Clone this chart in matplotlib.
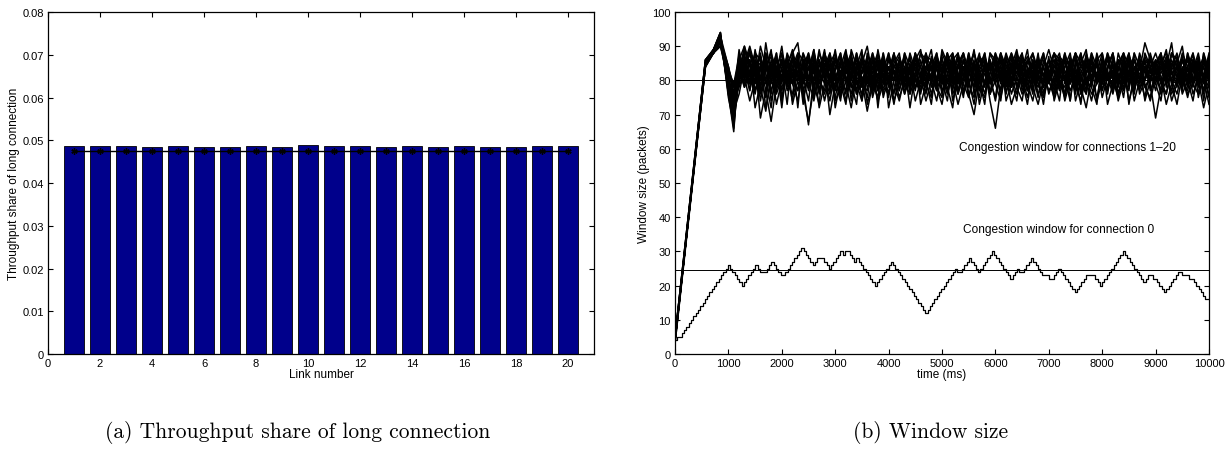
"""Throughput share and congestion window figure."""

import matplotlib

matplotlib.use("Agg")

import numpy as np
from matplotlib import pyplot as plt
from matplotlib import ticker

# ---- panel (a): throughput share per link ----
LINK_NUMBERS = list(range(1, 21))
THROUGHPUT_SHARE = [
    0.0487, 0.0486, 0.0486, 0.0485, 0.0486, 0.0485, 0.0484, 0.0487, 0.0485, 0.0488,
    0.0487, 0.0486, 0.0484, 0.0487, 0.0484, 0.0486, 0.0485, 0.0485, 0.0486, 0.0486,
]
FAIR_SHARE = [0.0476] * 20

# ---- panel (b): congestion windows ----
RAMP_TIMES_MS = [0, 570, 720, 850, 1000, 1100]
STEADY_TIMES_MS = list(range(1200, 10001, 100))

CONN_RAMPS = [
    [4, 85, 88, 93, 78, 70],
    [4, 85, 89, 94, 76, 65],
    [4, 85, 88, 92, 80, 72],
    [4, 85, 88, 91, 84, 76],
    [4, 85, 89, 93, 77, 68],
    [4, 85, 88, 92, 79, 74],
    [4, 85, 88, 90, 82, 78],
    [4, 85, 89, 94, 75, 67],
    [4, 85, 88, 92, 81, 73],
    [4, 85, 88, 91, 83, 79],
    [5, 84, 88, 92, 80, 71],
    [3, 86, 89, 93, 84, 75],
    [4, 84, 88, 91, 78, 69],
    [5, 86, 89, 94, 77, 66],
    [4, 85, 88, 92, 82, 77],
    [3, 84, 88, 90, 80, 74],
    [5, 86, 89, 93, 79, 70],
    [4, 85, 88, 92, 84, 78],
    [4, 84, 89, 93, 76, 68],
    [5, 86, 88, 91, 81, 75],
]

CONN_1 = [84, 88, 79, 86, 74, 83, 89, 76, 81, 87,
          73, 80, 86, 78, 84, 72, 79, 88, 82, 75,
          85, 80, 87, 74, 82, 86, 77, 83, 88, 79,
          74, 81, 87, 80, 76, 84, 89, 78, 73, 82,
          86, 79, 84, 75, 81, 87, 83, 76, 80, 88,
          74, 79, 85, 82, 77, 86, 81, 73, 84, 88,
          80, 75, 83, 87, 78, 72, 81, 86, 79, 84,
          88, 76, 82, 85, 74, 80, 87, 83, 77, 84,
          89, 79, 73, 82, 86, 78, 84, 80, 76]
CONN_2 = [86, 90, 82, 76, 85, 80, 72, 84, 88, 78,
          83, 87, 75, 81, 89, 77, 84, 70, 79, 86,
          81, 76, 84, 89, 73, 80, 86, 82, 75, 85,
          88, 78, 83, 74, 80, 87, 79, 84, 76, 82,
          77, 85, 88, 80, 73, 83, 86, 79, 84, 75,
          82, 87, 78, 74, 84, 80, 88, 76, 83, 79,
          85, 81, 74, 86, 82, 77, 88, 84, 75, 81,
          79, 85, 88, 73, 82, 86, 78, 75, 84, 88,
          81, 77, 85, 90, 80, 74, 83, 87, 79]
CONN_3 = [88, 83, 77, 89, 81, 75, 86, 82, 90, 79,
          76, 85, 81, 88, 74, 83, 79, 87, 72, 80,
          87, 83, 77, 85, 90, 81, 74, 79, 86, 83,
          77, 84, 72, 82, 88, 83, 76, 81, 87, 79,
          83, 76, 81, 87, 84, 78, 75, 82, 88, 80,
          86, 81, 76, 83, 89, 78, 73, 80, 86, 82,
          77, 84, 88, 79, 74, 82, 87, 80, 86, 78,
          83, 74, 80, 87, 84, 78, 81, 88, 82, 76,
          80, 86, 82, 77, 88, 83, 79, 85, 82]
CONN_4 = [80, 85, 90, 84, 78, 71, 82, 87, 80, 84,
          89, 82, 76, 68, 78, 85, 81, 76, 84, 88,
          79, 72, 81, 86, 79, 84, 77, 88, 81, 73,
          82, 87, 79, 85, 81, 74, 80, 86, 82, 88,
          80, 73, 79, 84, 88, 81, 76, 85, 79, 83,
          78, 84, 89, 81, 75, 82, 86, 78, 81, 85,
          88, 79, 82, 76, 85, 89, 78, 73, 87, 81,
          76, 83, 88, 79, 86, 81, 75, 84, 80, 87,
          83, 74, 79, 86, 81, 88, 75, 82, 87]
CONN_5 = [83, 78, 86, 81, 88, 79, 84, 73, 80, 86,
          82, 77, 85, 80, 88, 82, 74, 81, 87, 79,
          73, 86, 80, 76, 84, 87, 72, 85, 80, 88,
          82, 76, 81, 88, 73, 79, 84, 88, 81, 76,
          82, 88, 77, 81, 86, 73, 80, 84, 82, 77,
          83, 76, 81, 87, 84, 79, 85, 82, 77, 80,
          74, 87, 79, 84, 88, 81, 76, 79, 83, 87,
          81, 86, 77, 82, 79, 85, 74, 80, 86, 79,
          76, 84, 88, 81, 75, 82, 87, 80, 73]
CONN_6 = [78, 83, 88, 85, 69, 77, 83, 88, 75, 82,
          86, 72, 88, 84, 79, 73, 88, 83, 77, 85,
          76, 89, 84, 80, 71, 79, 84, 76, 88, 82,
          79, 86, 82, 77, 86, 80, 73, 85, 79, 86,
          88, 82, 75, 86, 80, 84, 88, 80, 75, 86,
          79, 82, 86, 77, 81, 88, 80, 84, 89, 83,
          79, 76, 86, 81, 73, 85, 79, 88, 82, 76,
          85, 79, 84, 88, 81, 77, 83, 86, 79, 74,
          86, 80, 76, 83, 87, 79, 84, 77, 85]
CONN_7 = [82, 90, 85, 79, 83, 87, 80, 77, 84, 73,
          88, 91, 79, 84, 80, 82, 89, 78, 81, 84,
          89, 79, 73, 88, 83, 77, 89, 81, 84, 76,
          86, 80, 88, 83, 79, 84, 81, 77, 89, 85,
          76, 80, 86, 83, 78, 87, 85, 76, 83, 88,
          81, 73, 78, 84, 87, 82, 75, 86, 80, 76,
          82, 88, 83, 78, 81, 76, 84, 82, 88, 80,
          86, 82, 75, 86, 80, 88, 83, 79, 86, 81,
          73, 79, 84, 76, 80, 84, 78, 88, 80]
CONN_8 = [85, 81, 74, 80, 90, 84, 77, 82, 86, 81,
          79, 74, 83, 87, 76, 88, 84, 80, 86, 82,
          74, 81, 88, 82, 87, 75, 81, 88, 72, 80,
          85, 79, 76, 81, 84, 88, 78, 81, 84, 80,
          85, 80, 84, 79, 75, 82, 79, 88, 86, 82,
          88, 83, 79, 80, 83, 76, 87, 81, 84, 88,
          83, 74, 80, 84, 77, 82, 88, 79, 84, 86,
          80, 75, 84, 81, 88, 76, 80, 84, 88, 83,
          87, 82, 80, 78, 84, 76, 81, 84, 86]
CONN_9 = [79, 86, 81, 88, 77, 91, 81, 86, 79, 88,
          84, 79, 81, 74, 86, 80, 77, 85, 88, 76,
          84, 88, 79, 82, 86, 78, 84, 83, 79, 88,
          80, 84, 77, 86, 84, 76, 87, 83, 79, 84,
          79, 84, 81, 88, 82, 77, 86, 83, 79, 74,
          87, 78, 84, 80, 73, 83, 79, 75, 81, 84,
          87, 83, 79, 88, 85, 80, 74, 82, 77, 83,
          88, 80, 87, 78, 84, 83, 91, 86, 82, 88,
          78, 88, 84, 86, 83, 80, 86, 74, 84]
CONN_10 = [87, 84, 79, 84, 85, 77, 68, 79, 83, 84,
           81, 86, 78, 67, 81, 86, 82, 81, 75, 83,
           82, 84, 76, 79, 77, 86, 81, 78, 76, 84,
           83, 76, 84, 78, 80, 87, 86, 77, 82, 78,
           72, 84, 88, 76, 70, 80, 84, 74, 66, 78,
           84, 88, 80, 84, 81, 84, 76, 79, 83, 77,
           84, 80, 87, 74, 80, 79, 86, 80, 79, 78,
           80, 86, 79, 83, 77, 84, 86, 79, 69, 78,
           84, 91, 79, 83, 78, 85, 80, 72, 79]
CONN_11 = [76, 84, 89, 82, 87, 80, 85, 78, 88, 83,
           79, 86, 73, 84, 80, 89, 81, 74, 83, 87,
           80, 85, 79, 74, 88, 82, 86, 75, 81, 84,
           87, 82, 78, 88, 84, 79, 75, 86, 82, 77,
           85, 81, 88, 83, 78, 84, 87, 81, 74, 83,
           77, 80, 85, 88, 79, 74, 82, 87, 83, 78,
           86, 82, 77, 81, 87, 84, 80, 75, 82, 88,
           84, 78, 86, 80, 83, 87, 79, 74, 81, 85,
           88, 83, 78, 84, 79, 86, 82, 76, 87]
CONN_12 = [89, 81, 86, 77, 83, 88, 74, 81, 85, 79,
           86, 82, 88, 79, 75, 82, 87, 84, 78, 81,
           88, 74, 83, 87, 81, 76, 85, 79, 84, 74,
           79, 88, 84, 80, 77, 83, 86, 79, 88, 84,
           80, 87, 76, 82, 89, 79, 83, 86, 81, 88,
           84, 80, 74, 86, 82, 77, 84, 88, 80, 75,
           81, 86, 79, 83, 76, 88, 83, 80, 86, 73,
           79, 84, 81, 77, 88, 84, 80, 86, 83, 77,
           82, 88, 86, 80, 77, 84, 79, 86, 81]
CONN_13 = [81, 87, 77, 84, 80, 86, 79, 88, 74, 85,
           88, 81, 84, 77, 87, 79, 82, 86, 80, 74,
           86, 81, 87, 80, 75, 84, 88, 80, 86, 82,
           75, 80, 85, 78, 82, 86, 80, 74, 83, 88,
           74, 81, 84, 78, 85, 80, 73, 88, 84, 86,
           80, 85, 81, 76, 80, 86, 82, 78, 87, 74,
           80, 78, 84, 88, 80, 86, 81, 87, 77, 84,
           88, 80, 77, 83, 86, 80, 84, 82, 86, 79,
           84, 80, 87, 82, 76, 79, 85, 81, 78]
CONN_14 = [84, 78, 82, 88, 86, 72, 80, 84, 77, 82,
           74, 88, 86, 80, 83, 76, 85, 81, 89, 80,
           77, 83, 86, 78, 83, 88, 79, 82, 76, 87,
           83, 77, 80, 86, 89, 81, 84, 78, 75, 88,
           83, 86, 79, 75, 83, 88, 78, 86, 80, 84,
           76, 83, 87, 79, 86, 81, 78, 84, 76, 81,
           87, 85, 81, 88, 79, 76, 86, 74, 80, 83,
           77, 88, 83, 74, 80, 79, 88, 84, 80, 86,
           79, 85, 81, 88, 84, 79, 76, 88, 83]
CONN_15 = [79, 89, 84, 80, 76, 84, 87, 81, 86, 77,
           81, 85, 80, 87, 82, 77, 84, 88, 74, 78,
           84, 78, 80, 83, 86, 79, 75, 86, 83, 88,
           77, 83, 86, 81, 78, 88, 83, 80, 85, 79,
           87, 77, 83, 86, 80, 75, 85, 79, 83, 87,
           82, 78, 88, 83, 77, 85, 81, 88, 79, 83,
           78, 84, 86, 80, 88, 78, 83, 84, 80, 86,
           82, 76, 80, 88, 78, 84, 80, 87, 84, 80,
           76, 83, 86, 78, 84, 88, 82, 79, 87]
CONN_16 = [87, 80, 86, 72, 79, 86, 82, 79, 86, 80,
           84, 88, 77, 81, 85, 79, 88, 83, 80, 86,
           82, 87, 82, 84, 80, 88, 83, 87, 80, 84,
           82, 86, 79, 84, 81, 78, 82, 85, 80, 74,
           86, 88, 82, 79, 85, 77, 82, 80, 86, 79,
           86, 82, 84, 78, 82, 85, 79, 76, 82, 86,
           80, 88, 74, 85, 83, 80, 78, 86, 88, 81,
           84, 79, 85, 82, 76, 86, 78, 81, 79, 84,
           82, 76, 80, 87, 81, 86, 80, 84, 75]
CONN_17 = [83, 86, 80, 84, 78, 86, 80, 84, 72, 85,
           80, 77, 86, 83, 89, 80, 76, 82, 86, 80,
           88, 83, 76, 80, 84, 77, 80, 86, 79, 81,
           86, 84, 79, 80, 88, 86, 79, 87, 83, 86,
           81, 76, 86, 79, 84, 81, 88, 76, 87, 81,
           79, 86, 82, 88, 77, 80, 84, 81, 84, 86,
           79, 81, 85, 77, 82, 87, 80, 85, 81, 77,
           87, 81, 78, 85, 82, 79, 84, 81, 85, 88,
           79, 82, 84, 79, 83, 80, 86, 80, 86]
CONN_18 = [86, 82, 88, 81, 84, 82, 76, 86, 81, 87,
           82, 84, 79, 86, 78, 84, 86, 79, 83, 88,
           79, 86, 81, 86, 78, 80, 87, 84, 78, 83,
           81, 88, 76, 87, 80, 84, 81, 88, 77, 80,
           84, 79, 80, 88, 76, 86, 83, 84, 85, 80,
           87, 84, 78, 81, 85, 88, 83, 80, 86, 80,
           84, 76, 82, 79, 87, 82, 86, 80, 84, 80,
           81, 86, 84, 79, 84, 80, 86, 77, 81, 80,
           86, 80, 79, 86, 80, 83, 88, 80, 84]
CONN_19 = [80, 85, 82, 77, 81, 88, 84, 80, 78, 82,
           87, 80, 84, 88, 82, 86, 80, 84, 86, 81,
           85, 81, 88, 78, 86, 80, 82, 79, 87, 82,
           84, 79, 84, 83, 77, 80, 84, 80, 86, 82,
           88, 80, 86, 82, 88, 83, 79, 82, 88, 84,
           81, 88, 84, 86, 80, 79, 86, 84, 80, 88,
           86, 80, 83, 88, 76, 80, 83, 85, 80, 88,
           80, 84, 82, 87, 80, 81, 84, 80, 85, 82,
           86, 79, 84, 80, 88, 80, 82, 84, 80]
CONN_20 = [85, 79, 83, 86, 80, 84, 88, 83, 85, 82,
           79, 82, 84, 80, 84, 81, 88, 77, 86, 84,
           83, 78, 85, 81, 80, 86, 77, 84, 82, 80,
           86, 80, 82, 88, 82, 80, 86, 83, 81, 86,
           78, 82, 80, 85, 80, 82, 84, 83, 87, 81,
           83, 80, 88, 82, 86, 84, 80, 82, 80, 84,
           82, 86, 80, 82, 84, 82, 86, 81, 84, 82,
           78, 83, 88, 84, 79, 82, 85, 86, 82, 84,
           80, 88, 84, 82, 80, 86, 84, 81, 88]
CONN_STEADY = [CONN_1, CONN_2, CONN_3, CONN_4, CONN_5,
               CONN_6, CONN_7, CONN_8, CONN_9, CONN_10,
               CONN_11, CONN_12, CONN_13, CONN_14, CONN_15,
               CONN_16, CONN_17, CONN_18, CONN_19, CONN_20]

# connection 0 window, one sample per round trip (~43 ms)
CONN0_STEP_MS = 43
CONN0_WINDOW = [
    4, 5, 5, 6, 7, 8, 9, 10, 11, 12, 13, 14, 15, 16, 17, 18, 19, 20, 21, 22, 23, 24, 25, 26,
    25, 24, 23, 22, 21, 20, 21, 22, 23, 24, 25, 26, 25, 24, 24, 24, 25, 26, 27,
    26, 25, 24, 23, 23, 24, 25, 26, 27, 28, 29, 30, 31, 30, 29, 28, 27, 26, 27, 28, 28, 28,
    27, 26, 25, 26, 27, 28, 29, 30, 29, 30, 30, 29, 28, 27, 28, 27,
    26, 25, 24, 23, 22, 21, 20, 21, 22, 23, 24, 25, 26, 27,
    26, 25, 24, 23, 22, 21, 20, 19, 18, 17, 16, 15, 14, 13, 12,
    13, 14, 15, 16, 17, 18, 19, 20, 21, 22, 23, 24, 25, 24, 24, 25, 26, 27, 28,
    27, 26, 25, 24, 25, 26, 27, 28, 29, 30, 29, 28, 27, 26, 25, 24, 23, 22,
    23, 24, 25, 24, 24, 25, 26, 27, 28, 27, 26, 25, 24, 23, 23, 23, 22, 22,
    23, 24, 25, 24, 23, 22, 21, 20, 19, 18, 19, 20, 21, 22, 23, 23, 23, 23, 22, 21, 20,
    21, 22, 23, 24, 25, 26, 27, 28, 29, 30, 29, 28, 27, 26, 25, 24, 23, 22, 21,
    22, 23, 23, 22, 22, 21, 20, 19, 18, 19, 20, 21, 22, 23, 24, 24, 23, 23, 23, 22, 22,
    21, 20, 19, 18, 17, 16, 16,
]
MEAN_WINDOW_OTHERS = 80
MEAN_WINDOW_CONN0 = 24.5

BAR_COLOR = "#00008b"
SERIF_FONT = "cmr10"


def style_matlab_axis(axis):
    axis.tick_params(direction="in", top=True, right=True, length=3.5, width=0.8,
                     labelsize=8, pad=3)
    for spine in axis.spines.values():
        spine.set_linewidth(0.9)


def draw_throughput(axis):
    axis.bar(LINK_NUMBERS, THROUGHPUT_SHARE, width=0.8, color=BAR_COLOR,
             edgecolor="black", linewidth=0.6, zorder=2)
    axis.plot(LINK_NUMBERS, FAIR_SHARE, color="black", linewidth=1.0,
              marker=(6, 2, 0), markersize=4.5, markeredgewidth=1.0, zorder=3)
    axis.set_xlim(0, 21)
    axis.set_ylim(0, 0.08)
    axis.xaxis.set_major_locator(ticker.MultipleLocator(2))
    axis.yaxis.set_major_locator(ticker.MultipleLocator(0.01))
    axis.yaxis.set_major_formatter(ticker.FormatStrFormatter("%g"))
    axis.set_xlabel("Link number", fontsize=8.5, labelpad=0)
    axis.set_ylabel("Throughput share of long connection", fontsize=8.5, labelpad=2)
    style_matlab_axis(axis)


def draw_windows(axis):
    axis.axhline(MEAN_WINDOW_OTHERS, color="black", linewidth=0.7, zorder=1)
    axis.axhline(MEAN_WINDOW_CONN0, color="black", linewidth=0.7, zorder=1)
    conn_times = RAMP_TIMES_MS + STEADY_TIMES_MS
    for ramp, steady in zip(CONN_RAMPS, CONN_STEADY, strict=True):
        values = ramp + steady
        assert len(values) == len(conn_times), len(steady)
        axis.plot(conn_times, values, color="black", linewidth=1.1, zorder=2)
    conn0_times = np.arange(len(CONN0_WINDOW)) * CONN0_STEP_MS
    axis.plot(conn0_times, CONN0_WINDOW, color="black", linewidth=0.9,
              drawstyle="steps-post", zorder=2)
    axis.text(5320, 60.5, "Congestion window for connections 1\u201320",
              fontsize=8.6, va="center", ha="left")
    axis.text(5390, 36.5, "Congestion window for connection 0",
              fontsize=8.6, va="center", ha="left")
    axis.set_xlim(0, 10000)
    axis.set_ylim(0, 100)
    axis.xaxis.set_major_locator(ticker.MultipleLocator(1000))
    axis.yaxis.set_major_locator(ticker.MultipleLocator(10))
    axis.set_xlabel("time (ms)", fontsize=8.5, labelpad=0)
    axis.set_ylabel("Window size (packets)", fontsize=8.5, labelpad=2)
    style_matlab_axis(axis)


def main():
    plt.rcParams.update({
        "font.family": ["Liberation Sans", "DejaVu Sans"],
        "figure.facecolor": "white",
        "axes.facecolor": "white",
    })
    figure = plt.figure(figsize=(12.31, 4.52), dpi=100)
    left_axis = figure.add_axes([48 / 1231, 97 / 452, 546 / 1231, 342 / 452])
    right_axis = figure.add_axes([675 / 1231, 97 / 452, 534 / 1231, 342 / 452])
    draw_throughput(left_axis)
    draw_windows(right_axis)
    figure.text(298 / 1231, 19 / 452, "(a) Throughput share of long connection",
                family=SERIF_FONT, fontsize=15.5, ha="center", va="center")
    figure.text(931 / 1231, 19 / 452, "(b) Window size",
                family=SERIF_FONT, fontsize=15.5, ha="center", va="center")
    figure.savefig("out.png", dpi=100)


if __name__ == "__main__":
    main()
